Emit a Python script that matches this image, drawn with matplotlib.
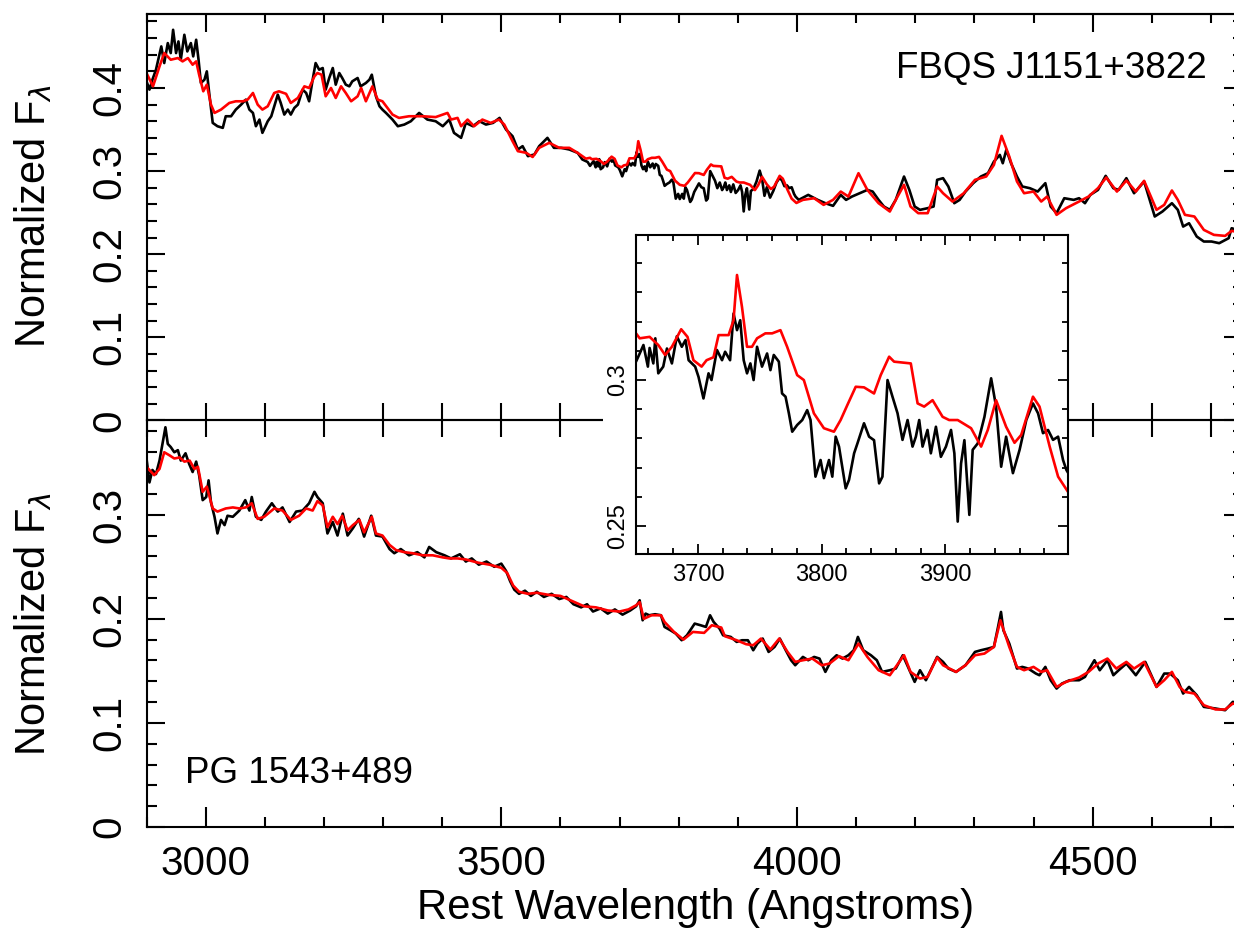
import matplotlib
matplotlib.use('Agg')
import matplotlib.pyplot as plt
from matplotlib.ticker import MultipleLocator, FuncFormatter
from matplotlib.patches import Rectangle

plt.rcParams['font.family'] = ['Liberation Sans', 'DejaVu Sans']
plt.rcParams['mathtext.fontset'] = 'dejavusans'

# FBQS J1151+3822 (top panel + inset), black = object, red = template
top_wave_black = [2900, 2905, 2910, 2916, 2925, 2930, 2936, 2941, 2945, 2950, 2954, 2958, 2964, 2969,
                  2975, 2979, 2984, 2988, 2992, 2998, 3002, 3006, 3012, 3020, 3029, 3034, 3043, 3051,
                  3060, 3068, 3074, 3080, 3085, 3091, 3096, 3105, 3111, 3116, 3122, 3127, 3133, 3139,
                  3144, 3150, 3156, 3164, 3170, 3175, 3181, 3186, 3192, 3198, 3203, 3209, 3215, 3220,
                  3226, 3231, 3237, 3243, 3248, 3257, 3262, 3271, 3277, 3281, 3288, 3294, 3299, 3305,
                  3316, 3325, 3336, 3347, 3361, 3375, 3389, 3401, 3412, 3420, 3432, 3440, 3452, 3463,
                  3474, 3486, 3497, 3508, 3519, 3528, 3536, 3545, 3556, 3564, 3578, 3589, 3601, 3615,
                  3629, 3637, 3646,
                  3650, 3653, 3656, 3659.6, 3661, 3664, 3665.6, 3668, 3672, 3675, 3679, 3683, 3687,
                  3690, 3692.5, 3697.8, 3700.5, 3704.5, 3708.6, 3711, 3715.4, 3719.5, 3722, 3726,
                  3728.8, 3731.6, 3734.2, 3737, 3739.7, 3742.4, 3745, 3747.8, 3751.8, 3755.9, 3758.6,
                  3761.3, 3765.4, 3768, 3770.8, 3773.5, 3776.2, 3780.2, 3784.3, 3788.3, 3791, 3795,
                  3799.1, 3801.8, 3805.9, 3808.6, 3811.3, 3814, 3819.4, 3822.1, 3826.2, 3828.9,
                  3834.2, 3838.3, 3842.3, 3846.4, 3849.1, 3853.2, 3857.2, 3861.3, 3865.3, 3869.4,
                  3873.4, 3876.1, 3878.8, 3881.5, 3885.5, 3888.2, 3892.3, 3896.3, 3900.4, 3904.5,
                  3907.2, 3909.9, 3912.6, 3915.3, 3919.3, 3922, 3926.1, 3931.5, 3936.9, 3940.9, 3945,
                  3949, 3954.5, 3959.9, 3965.3, 3970.7, 3974.8, 3978.8, 3982.9, 3986.9, 3991, 3995,
                  3997.7,
                  4003, 4019, 4035, 4048, 4061, 4074, 4083, 4093, 4106, 4119, 4128, 4138, 4147, 4157,
                  4167, 4173, 4181, 4190, 4199, 4208, 4221, 4231, 4237, 4247, 4256, 4266, 4275, 4285,
                  4298, 4311, 4323, 4333, 4343, 4348, 4354, 4362, 4372, 4381, 4394, 4407, 4420, 4429,
                  4439, 4452, 4468, 4477, 4487, 4496, 4509, 4522, 4535, 4544, 4557, 4570, 4587, 4605,
                  4618, 4634, 4644, 4653, 4663, 4676, 4688, 4701, 4714, 4730, 4735, 4750]
top_flux_black = [0.408, 0.398, 0.410, 0.422, 0.450, 0.430, 0.454, 0.442, 0.470, 0.442, 0.456, 0.434,
                  0.464, 0.444, 0.454, 0.438, 0.458, 0.434, 0.406, 0.410, 0.420, 0.394, 0.358, 0.354,
                  0.352, 0.366, 0.366, 0.374, 0.380, 0.386, 0.374, 0.370, 0.354, 0.362, 0.346, 0.360,
                  0.366, 0.378, 0.392, 0.382, 0.368, 0.374, 0.368, 0.376, 0.380, 0.398, 0.394, 0.384,
                  0.410, 0.430, 0.422, 0.424, 0.398, 0.412, 0.424, 0.404, 0.418, 0.412, 0.404, 0.402,
                  0.408, 0.412, 0.402, 0.406, 0.410, 0.416, 0.390, 0.378, 0.374, 0.370, 0.362, 0.354,
                  0.356, 0.360, 0.370, 0.362, 0.360, 0.354, 0.362, 0.346, 0.340, 0.358, 0.354, 0.360,
                  0.356, 0.358, 0.364, 0.350, 0.342, 0.326, 0.330, 0.318, 0.320, 0.330, 0.340, 0.328,
                  0.328, 0.326, 0.322, 0.314, 0.311,
                  0.3063, 0.3091, 0.3120, 0.3046, 0.3110, 0.3057, 0.3143, 0.3023, 0.3046, 0.3108,
                  0.3057, 0.3150, 0.3114, 0.3137, 0.3068, 0.3046, 0.3011, 0.2937, 0.3023, 0.3000,
                  0.3103, 0.3068, 0.3097, 0.3068, 0.3228, 0.3171, 0.3205, 0.3068, 0.3023, 0.3057,
                  0.3000, 0.3114, 0.3046, 0.3091, 0.3034, 0.3086, 0.3063, 0.2954, 0.2943, 0.2886,
                  0.2823, 0.2846, 0.2863, 0.2897, 0.2863, 0.2669, 0.2726, 0.2664, 0.2726, 0.2669,
                  0.2806, 0.2772, 0.2629, 0.2658, 0.2749, 0.2783, 0.2852, 0.2806, 0.2794, 0.2646,
                  0.2669, 0.3000, 0.2943, 0.2886, 0.2795, 0.2863, 0.2772, 0.2806, 0.2863, 0.2772,
                  0.2829, 0.2749, 0.2840, 0.2737, 0.2772, 0.2829, 0.2749, 0.2515, 0.2714, 0.2794,
                  0.2538, 0.2761, 0.2783, 0.2874, 0.3006, 0.2909, 0.2703, 0.2806, 0.2681, 0.2761,
                  0.2863, 0.2920, 0.2886, 0.2818, 0.2829, 0.2795, 0.2806, 0.2726, 0.2692,
                  0.2654, 0.2714, 0.2654, 0.2614, 0.2582, 0.2714, 0.2654, 0.2694, 0.2734, 0.2774,
                  0.2754, 0.2654, 0.2574, 0.2534, 0.2654, 0.2774, 0.2935, 0.2774, 0.2574, 0.2534,
                  0.2554, 0.2574, 0.2895, 0.2915, 0.2815, 0.2614, 0.2654, 0.2754, 0.2855, 0.2935,
                  0.2975, 0.3115, 0.3195, 0.3095, 0.3256, 0.3095, 0.2935, 0.2815, 0.2794, 0.2754,
                  0.2855, 0.2574, 0.2494, 0.2674, 0.2654, 0.2674, 0.2614, 0.2714, 0.2774, 0.2943,
                  0.2794, 0.2774, 0.2915, 0.2734, 0.2875, 0.2454, 0.2514, 0.2614, 0.2534, 0.2333,
                  0.2373, 0.2213, 0.2153, 0.2153, 0.2133, 0.2193, 0.2313, 0.2280]

top_wave_red = [2900, 2911, 2922, 2930, 2941, 2953, 2961, 2970, 2978, 2984, 2989, 2996, 3002, 3009,
                3015, 3026, 3040, 3051, 3063, 3071, 3080, 3088, 3096, 3105, 3116, 3124, 3136, 3144,
                3156, 3167, 3175, 3184, 3189, 3196, 3203, 3212, 3220, 3229, 3237, 3246, 3257, 3263,
                3271, 3282, 3291, 3299, 3316, 3327, 3344, 3367, 3389, 3409, 3415, 3426, 3432, 3443,
                3454, 3468, 3482, 3496, 3505, 3519, 3528, 3542, 3553, 3564, 3581, 3598, 3615, 3629,
                3643,
                3650, 3653, 3661, 3668, 3673.5, 3679, 3686.5, 3691.6, 3696.4, 3703, 3707, 3712.6,
                3716.7, 3724.8, 3728.8, 3731.6, 3735.6, 3739.7, 3743.7, 3747.8, 3754.5, 3760,
                3766.7, 3772.1, 3780.2, 3785.6, 3793.7, 3801.8, 3809.9, 3815.3, 3820.7, 3827.5,
                3834.2, 3842.3, 3847.7, 3854.5, 3858.5, 3872, 3877.5, 3882.8, 3889.6, 3897.7, 3903,
                3909.9, 3920.7, 3928.8, 3934.2, 3940.9, 3949, 3955.8, 3961.2, 3970.7, 3976, 3984.2,
                3991, 3999,
                4010, 4029, 4045, 4061, 4074, 4087, 4104, 4119, 4138, 4157, 4167, 4181, 4192, 4205,
                4221, 4237, 4247, 4263, 4282, 4301, 4320, 4333, 4346, 4359, 4372, 4384, 4400, 4413,
                4423, 4439, 4455, 4477, 4493, 4509, 4523, 4541, 4557, 4573, 4587, 4608, 4621, 4634,
                4644, 4656, 4672, 4688, 4705, 4724, 4735, 4750]
top_flux_red = [0.418, 0.402, 0.426, 0.442, 0.434, 0.436, 0.432, 0.436, 0.428, 0.432, 0.416, 0.396,
                0.404, 0.380, 0.370, 0.374, 0.382, 0.384, 0.384, 0.386, 0.394, 0.380, 0.374, 0.378,
                0.394, 0.396, 0.393, 0.382, 0.388, 0.402, 0.400, 0.414, 0.418, 0.416, 0.390, 0.400,
                0.388, 0.402, 0.394, 0.384, 0.390, 0.400, 0.384, 0.402, 0.386, 0.384, 0.368, 0.364,
                0.366, 0.366, 0.365, 0.370, 0.362, 0.364, 0.354, 0.362, 0.354, 0.362, 0.358, 0.362,
                0.356, 0.336, 0.324, 0.322, 0.317, 0.328, 0.334, 0.328, 0.328, 0.322, 0.315,
                0.3160, 0.3143, 0.3148, 0.3120, 0.3086, 0.3114, 0.3174, 0.3148, 0.3068, 0.3046,
                0.3068, 0.3078, 0.3154, 0.3154, 0.3205, 0.3360, 0.3251, 0.3114, 0.3114, 0.3143,
                0.3160, 0.3160, 0.3171, 0.3114, 0.3017, 0.3000, 0.2886, 0.2835, 0.2823, 0.2863,
                0.2914, 0.2977, 0.2975, 0.2954, 0.3017, 0.3080, 0.3063, 0.3057, 0.2920, 0.2909,
                0.2931, 0.2874, 0.2863, 0.2863, 0.2835, 0.2772, 0.2829, 0.2931, 0.2840, 0.2785,
                0.2812, 0.2943, 0.2909, 0.2772, 0.2669, 0.2617,
                0.2654, 0.2674, 0.2594, 0.2654, 0.2754, 0.2694, 0.2975, 0.2774, 0.2614, 0.2514,
                0.2654, 0.2835, 0.2574, 0.2494, 0.2494, 0.2815, 0.2734, 0.2634, 0.2734, 0.2895,
                0.2935, 0.3075, 0.3424, 0.3175, 0.2875, 0.2734, 0.2754, 0.2634, 0.2694, 0.2474,
                0.2554, 0.2634, 0.2694, 0.2795, 0.2923, 0.2754, 0.2887, 0.2754, 0.2883, 0.2534,
                0.2594, 0.2767, 0.2654, 0.2474, 0.2454, 0.2293, 0.2233, 0.2221, 0.2281, 0.2260]

# PG 1543+489 (bottom panel)
bot_wave_black = [2900, 2905, 2910, 2916, 2922, 2927, 2932, 2936, 2941, 2947, 2953, 2958, 2966, 2972,
                  2978, 2984, 2989, 2995, 3001, 3005, 3009, 3015, 3020, 3026, 3032, 3037, 3046, 3057,
                  3067, 3074, 3078, 3085, 3094, 3102, 3112, 3122, 3130, 3142, 3153, 3164, 3175, 3184,
                  3189, 3198, 3206, 3215, 3223, 3232, 3240, 3249, 3259, 3268, 3280, 3288, 3299, 3311,
                  3319, 3330, 3344, 3358, 3370, 3378, 3390, 3404, 3415,
                  3430, 3440, 3450, 3462, 3475, 3488, 3500, 3508, 3515, 3522, 3530, 3540, 3550, 3560,
                  3572, 3585, 3598, 3610, 3622, 3635, 3645, 3655, 3668, 3680, 3692, 3705, 3718, 3728,
                  3734, 3739, 3744, 3750, 3760, 3770, 3776, 3786, 3795, 3805, 3814, 3827, 3837, 3846,
                  3853, 3859, 3869, 3875, 3888, 3898, 3907, 3917, 3926, 3933, 3942, 3952, 3962, 3971,
                  3981, 3990, 3997, 4010, 4019, 4029, 4038, 4048, 4058, 4067, 4077, 4087, 4096, 4103,
                  4112, 4125, 4135, 4144, 4157, 4167, 4179, 4189, 4199, 4208, 4218, 4237, 4247, 4256,
                  4269, 4285, 4301, 4311, 4323, 4333, 4340, 4345, 4349, 4359, 4372, 4381, 4391, 4404,
                  4410, 4420, 4429, 4439, 4448, 4461, 4477, 4487, 4493, 4503, 4512, 4525, 4535, 4544,
                  4557, 4573, 4589, 4608, 4621, 4631, 4644, 4653, 4663, 4676, 4688, 4708, 4724, 4737,
                  4750]
bot_flux_black = [0.354, 0.331, 0.343, 0.339, 0.352, 0.368, 0.384, 0.368, 0.365, 0.360, 0.362, 0.352,
                  0.359, 0.349, 0.341, 0.351, 0.338, 0.314, 0.317, 0.333, 0.312, 0.298, 0.282, 0.295,
                  0.290, 0.299, 0.298, 0.304, 0.314, 0.304, 0.317, 0.298, 0.295, 0.303, 0.311, 0.303,
                  0.307, 0.293, 0.303, 0.304, 0.311, 0.322, 0.317, 0.311, 0.282, 0.293, 0.280, 0.301,
                  0.280, 0.287, 0.296, 0.279, 0.299, 0.280, 0.279, 0.267, 0.263, 0.267, 0.261, 0.264,
                  0.259, 0.269, 0.264, 0.261, 0.258,
                  0.262, 0.255, 0.258, 0.252, 0.255, 0.250, 0.253, 0.246, 0.236, 0.228, 0.224, 0.227,
                  0.222, 0.226, 0.221, 0.224, 0.219, 0.221, 0.214, 0.211, 0.214, 0.207, 0.210, 0.205,
                  0.209, 0.204, 0.208, 0.212,
                  0.2178, 0.1986, 0.2050, 0.2034, 0.2044, 0.2034, 0.1922, 0.1890, 0.1858, 0.1794,
                  0.1842, 0.1954, 0.1938, 0.1922, 0.2034, 0.1970, 0.1906, 0.1842, 0.1826, 0.1778,
                  0.1794, 0.1794, 0.1698, 0.1762, 0.1810, 0.1682, 0.1730, 0.1810, 0.1698, 0.1602,
                  0.1554, 0.1634, 0.1602, 0.1634, 0.1618, 0.1490, 0.1602, 0.1650, 0.1618, 0.1650,
                  0.1698, 0.1826, 0.1698, 0.1650, 0.1602, 0.1490, 0.1506, 0.1522, 0.1650, 0.1522,
                  0.1394, 0.1506, 0.1410, 0.1634, 0.1586, 0.1522, 0.1490, 0.1554, 0.1682, 0.1698,
                  0.1714, 0.1730, 0.1922, 0.2066, 0.1890, 0.1762, 0.1522, 0.1538, 0.1522, 0.1474,
                  0.1458, 0.1538, 0.1410, 0.1330, 0.1378, 0.1410, 0.1410, 0.1442, 0.1506, 0.1602,
                  0.1506, 0.1602, 0.1458, 0.1506, 0.1570, 0.1458, 0.1586, 0.1346, 0.1474, 0.1474,
                  0.1410, 0.1282, 0.1346, 0.1266, 0.1154, 0.1138, 0.1122, 0.1202, 0.1180]

bot_wave_red = [2900, 2913, 2922, 2930, 2939, 2947, 2956, 2964, 2973, 2981, 2987, 2995, 3002, 3012,
                3020, 3034, 3046, 3057, 3068, 3078, 3088, 3099, 3116, 3130, 3144, 3158, 3170, 3181,
                3189, 3198, 3206, 3215, 3223, 3231, 3240, 3249, 3260, 3268, 3281, 3288, 3299, 3311,
                3322, 3336, 3350, 3367, 3384, 3401, 3412, 3426,
                3440, 3460, 3480, 3500, 3510, 3520, 3530, 3545, 3560, 3580, 3600, 3620, 3640, 3660,
                3680, 3700, 3715, 3728,
                3734, 3741, 3754, 3770, 3776, 3792, 3808, 3824, 3843, 3856, 3872, 3878, 3898, 3914,
                3926, 3939, 3955, 3970, 3984, 3997, 4010, 4026, 4042, 4055, 4071, 4087, 4104, 4119,
                4138, 4157, 4167, 4181, 4192, 4208, 4221, 4237, 4247, 4269, 4285, 4301, 4317, 4333,
                4344, 4359, 4372, 4384, 4400, 4413, 4423, 4439, 4455, 4477, 4493, 4509, 4525, 4540,
                4557, 4570, 4587, 4608, 4621, 4634, 4647, 4656, 4672, 4688, 4708, 4724, 4737, 4750]
bot_flux_red = [0.346, 0.338, 0.344, 0.360, 0.357, 0.354, 0.355, 0.351, 0.352, 0.344, 0.346, 0.322,
                0.327, 0.306, 0.303, 0.306, 0.307, 0.306, 0.307, 0.311, 0.296, 0.298, 0.306, 0.304,
                0.295, 0.299, 0.306, 0.304, 0.313, 0.309, 0.288, 0.298, 0.291, 0.299, 0.285, 0.290,
                0.295, 0.283, 0.298, 0.282, 0.280, 0.271, 0.266, 0.264, 0.263, 0.261, 0.261, 0.259,
                0.258, 0.258,
                0.257, 0.254, 0.252, 0.249, 0.244, 0.232, 0.226, 0.224, 0.225, 0.223, 0.222, 0.217,
                0.212, 0.211, 0.208, 0.207, 0.209, 0.213,
                0.2160, 0.2000, 0.2034, 0.2034, 0.1970, 0.1874, 0.1800, 0.1874, 0.1865, 0.1938,
                0.1916, 0.1833, 0.1794, 0.1756, 0.1746, 0.1810, 0.1705, 0.1810, 0.1682, 0.1586,
                0.1602, 0.1618, 0.1554, 0.1570, 0.1641, 0.1602, 0.1762, 0.1634, 0.1506, 0.1458,
                0.1538, 0.1650, 0.1490, 0.1426, 0.1442, 0.1628, 0.1554, 0.1490, 0.1554, 0.1650,
                0.1666, 0.1730, 0.1986, 0.1730, 0.1538, 0.1506, 0.1538, 0.1490, 0.1506, 0.1346,
                0.1394, 0.1436, 0.1490, 0.1570, 0.1618, 0.1522, 0.1586, 0.1522, 0.1586, 0.1346,
                0.1410, 0.1490, 0.1346, 0.1298, 0.1282, 0.1170, 0.1129, 0.1129, 0.1186, 0.1170]

W, H = 1234, 930
fig = plt.figure(figsize=(W / 100, H / 100), dpi=100)

left, width = 146.5 / W, 1094 / W
ax1 = fig.add_axes([left, 1 - 420.5 / H, width, 406.5 / H])
ax2 = fig.add_axes([left, 1 - 827 / H, width, 406.5 / H])

fmt = FuncFormatter(lambda v, p: f'{v:g}')
lw = 1.9

for ax in (ax1, ax2):
    ax.set_facecolor('none')
    for s in ax.spines.values():
        s.set_linewidth(1.5)
    ax.set_xlim(2900, 4750)
    ax.xaxis.set_major_locator(MultipleLocator(500))
    ax.xaxis.set_minor_locator(MultipleLocator(100))
    ax.yaxis.set_major_locator(MultipleLocator(0.1))
    ax.yaxis.set_minor_locator(MultipleLocator(0.02))
    ax.yaxis.set_major_formatter(fmt)
    ax.tick_params(axis='y', which='both', direction='in', left=True, right=False, width=1.5)
    ax.tick_params(axis='y', which='major', length=13, pad=13, labelsize=29, labelrotation=90)
    ax.tick_params(axis='y', which='minor', length=7)
    for lab in ax.get_yticklabels():
        lab.set_va('center')
    sec = ax.secondary_yaxis('right')
    sec.yaxis.set_major_locator(MultipleLocator(0.1))
    sec.yaxis.set_minor_locator(MultipleLocator(0.02))
    sec.spines['right'].set_linewidth(1.5)
    sec.tick_params(which='both', direction='in', width=1.5, labelright=False)
    sec.tick_params(which='major', length=12.5)
    sec.tick_params(which='minor', length=6)

ax1.set_ylim(0, 0.489)
ax2.set_ylim(0, 0.3905)

# shared boundary ticks: all x ticks cross the divider
ax1.tick_params(axis='x', which='both', direction='inout', length=24, width=1.5,
                bottom=True, top=False, labelbottom=False)
topx = ax1.secondary_xaxis('top')
topx.xaxis.set_major_locator(MultipleLocator(500))
topx.xaxis.set_minor_locator(MultipleLocator(100))
topx.spines['top'].set_linewidth(1.5)
topx.tick_params(which='both', direction='in', width=1.5, labeltop=False)
topx.tick_params(which='major', length=13)
topx.tick_params(which='minor', length=6.5)

ax2.tick_params(axis='x', which='both', direction='in', width=1.5, bottom=True, top=False)
ax2.tick_params(axis='x', which='major', length=14.4, pad=13, labelsize=29)
ax2.tick_params(axis='x', which='minor', length=7.2)

ax1.plot(top_wave_black, top_flux_black, color='black', lw=lw)
ax1.plot(top_wave_red, top_flux_red, color='red', lw=lw)
ax2.plot(bot_wave_black, bot_flux_black, color='black', lw=lw)
ax2.plot(bot_wave_red, bot_flux_red, color='red', lw=lw)

fig.text(1207 / W, 1 - 78 / H, 'FBQS J1151+3822', fontsize=26.5, ha='right', va='baseline')
fig.text(185 / W, 1 - 783 / H, 'PG 1543+489', fontsize=26.5, ha='left', va='baseline')

fig.text(33 / W, 1 - 216 / H, r'Normalized F$_\lambda$', fontsize=30, rotation=90,
         ha='center', va='center')
fig.text(33 / W, 1 - 624 / H, r'Normalized F$_\lambda$', fontsize=30, rotation=90,
         ha='center', va='center')
fig.text(696 / W, 1 - 908 / H, 'Rest Wavelength (Angstroms)', fontsize=30.2,
         ha='center', va='center')

# white backing for the inset (hides divider and panel lines)
fig.add_artist(Rectangle((603 / W, 1 - 588 / H), 465 / W, 356 / H, transform=fig.transFigure,
                         facecolor='white', edgecolor='none', zorder=2))

axin = fig.add_axes([636 / W, 1 - 554 / H, 432 / W, 319 / H])
axin.set_zorder(3)
axin.plot(top_wave_black, top_flux_black, color='black', lw=lw)
axin.plot(top_wave_red, top_flux_red, color='red', lw=lw)
axin.set_xlim(3650, 3999)
axin.set_ylim(0.2404, 0.3497)
axin.xaxis.set_major_locator(MultipleLocator(100))
axin.xaxis.set_minor_locator(MultipleLocator(20))
axin.yaxis.set_major_locator(MultipleLocator(0.05))
axin.yaxis.set_minor_locator(MultipleLocator(0.01))
axin.yaxis.set_major_formatter(fmt)
for s in axin.spines.values():
    s.set_linewidth(1.5)
axin.tick_params(which='both', direction='in', width=1.3, top=True, right=True, labelsize=17)
axin.tick_params(which='major', length=7)
axin.tick_params(which='minor', length=4.3)
axin.tick_params(axis='x', pad=7)
axin.tick_params(axis='y', pad=5, labelrotation=90)
for lab in axin.get_yticklabels():
    lab.set_va('center')

fig.savefig('out.png', dpi=100)
